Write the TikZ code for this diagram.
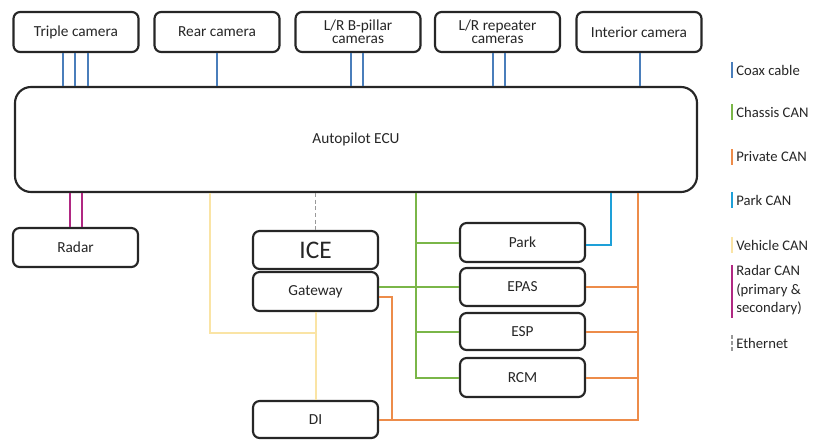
\documentclass[tikz,border=0pt]{standalone}
\usepackage{fontspec}
\setmainfont{Carlito}
\begin{document}
\begin{tikzpicture}[x=0.75pt,y=-0.75pt,
  box/.style={draw=black!85,line width=1.6pt,rounded corners=5pt,fill=white,
    minimum width=125*0.75pt,inner sep=1pt,align=center,text=black!85,
    font=\fontsize{11.5}{12}\selectfont},
  coax/.style={draw={rgb,255:red,74;green,126;blue,187},line width=1.5pt},
  chassis/.style={draw={rgb,255:red,122;green,182;blue,72},line width=1.5pt},
  private/.style={draw={rgb,255:red,237;green,140;blue,74},line width=1.5pt},
  parkcan/.style={draw={rgb,255:red,30;green,160;blue,216},line width=1.5pt},
  vehicle/.style={draw={rgb,255:red,250;green,228;blue,165},line width=1.5pt},
  radarcan/.style={draw={rgb,255:red,176;green,40;blue,130},line width=1.5pt},
  ether/.style={draw=black!40,line width=1.4pt,dash pattern=on 3pt off 2pt},
  legtext/.style={anchor=west,inner sep=0pt,text=black!85,align=left,
    font=\fontsize{11}{14}\selectfont}
]
\useasboundingbox (0,0) rectangle (817,439);

% top cameras
\node[box,minimum height=40*0.75pt] (tri) at (76,32) {Triple camera};
\node[box,minimum height=40*0.75pt] (rear) at (217,32) {Rear camera};
\node[box,minimum height=40*0.75pt] (bp) at (358,32) {L/R B-pillar\\[-2pt]cameras};
\node[box,minimum height=40*0.75pt] (rep) at (497.5,32) {L/R repeater\\[-2pt]cameras};
\node[box,minimum height=40*0.75pt] (int) at (639,32) {Interior camera};

% ECU
\node[box,minimum width=682*0.75pt,minimum height=105*0.75pt,rounded corners=12pt] (ecu) at (356,139.5) {Autopilot ECU};

% lower nodes
\node[box,minimum height=39*0.75pt] (radar) at (75.5,247.5) {Radar};
\node[box,minimum height=38*0.75pt,font=\fontsize{19}{20}\selectfont] (ice) at (315.5,250) {ICE};
\node[box,minimum height=39*0.75pt] (gw) at (315.5,291.5) {Gateway};
\node[box,minimum height=37*0.75pt] (di) at (315.5,419.5) {DI};
\node[box,minimum height=39*0.75pt] (park) at (522.5,242.5) {Park};
\node[box,minimum height=38*0.75pt] (epas) at (522.5,287) {EPAS};
\node[box,minimum height=37*0.75pt] (esp) at (522.5,331.5) {ESP};
\node[box,minimum height=39*0.75pt] (rcm) at (522.5,377.5) {RCM};

% x positions
\coordinate (t1) at (63,0);
\coordinate (t2) at (75,0);
\coordinate (t3) at (88,0);
\coordinate (r1) at (217,0);
\coordinate (b1) at (351,0);
\coordinate (b2) at (363,0);
\coordinate (p1) at (493,0);
\coordinate (p2) at (505,0);
\coordinate (i1) at (640,0);
\coordinate (m1) at (70,0);
\coordinate (m2) at (82,0);
\coordinate (v1) at (210,0);
\coordinate (vj) at (315.5,333);
\coordinate (g1) at (416,0);
\coordinate (k1) at (611,0);
\coordinate (o1) at (638,0);
\coordinate (o2) at (392,0);

% coax
\foreach \c/\n in {t1/tri,t2/tri,t3/tri,r1/rear,b1/bp,b2/bp,p1/rep,p2/rep,i1/int}
  \draw[coax] (\c |- \n.south) -- (\c |- ecu.north);
% radar
\draw[radarcan] (m1 |- ecu.south) -- (m1 |- radar.north);
\draw[radarcan] (m2 |- ecu.south) -- (m2 |- radar.north);
% ethernet
\draw[ether] (ice.north |- ecu.south) -- (ice.north);
% vehicle CAN
\draw[vehicle] (v1 |- ecu.south) |- (vj);
\draw[vehicle] (gw.south) -- (di.north);
% chassis CAN
\draw[chassis] (g1 |- ecu.south) |- (rcm.west);
\draw[chassis] (g1 |- park.west) -- (park.west);
\draw[chassis] (g1 |- esp.west) -- (esp.west);
\draw[chassis] (epas.west -| gw.east) -- (epas.west);
% park CAN
\draw[parkcan] ([yshift=-2pt]park.east) -| (k1 |- ecu.south);
% private CAN
\draw[private] (o1 |- ecu.south) |- (di.east);
\draw[private] (epas.east) -- (o1 |- epas.east);
\draw[private] (esp.east) -- (o1 |- esp.east);
\draw[private] (rcm.east) -- (o1 |- rcm.east);
\draw[private] ([yshift=-4pt]gw.east) -| (o2 |- di.east);

% legend
\draw[coax,line width=1.2pt] (732,62) -- (732,78);
\node[legtext] (l1) at (736,70) {Coax cable};
\draw[chassis,line width=1.2pt] (732,104) -- (732,120);
\node[legtext] (l2) at (736,112) {Chassis CAN};
\draw[private,line width=1.2pt] (732,149) -- (732,165);
\node[legtext] (l3) at (736,157) {Private CAN};
\draw[parkcan,line width=1.2pt] (732,192) -- (732,208);
\node[legtext] (l4) at (736,200) {Park CAN};
\draw[vehicle,line width=1.2pt] (732,237) -- (732,253);
\node[legtext] (l5) at (736,245) {Vehicle CAN};
\draw[radarcan,line width=1.2pt] (732,265) -- (732,318);
\node[legtext,anchor=north west] (l6) at (736,265) {Radar CAN\\(primary \&\\secondary)};
\draw[ether,line width=1.2pt,dash pattern=on 3pt off 1.5pt] (732,335) -- (732,351);
\node[legtext] (l7) at (736,343) {Ethernet};
\end{tikzpicture}
\end{document}
